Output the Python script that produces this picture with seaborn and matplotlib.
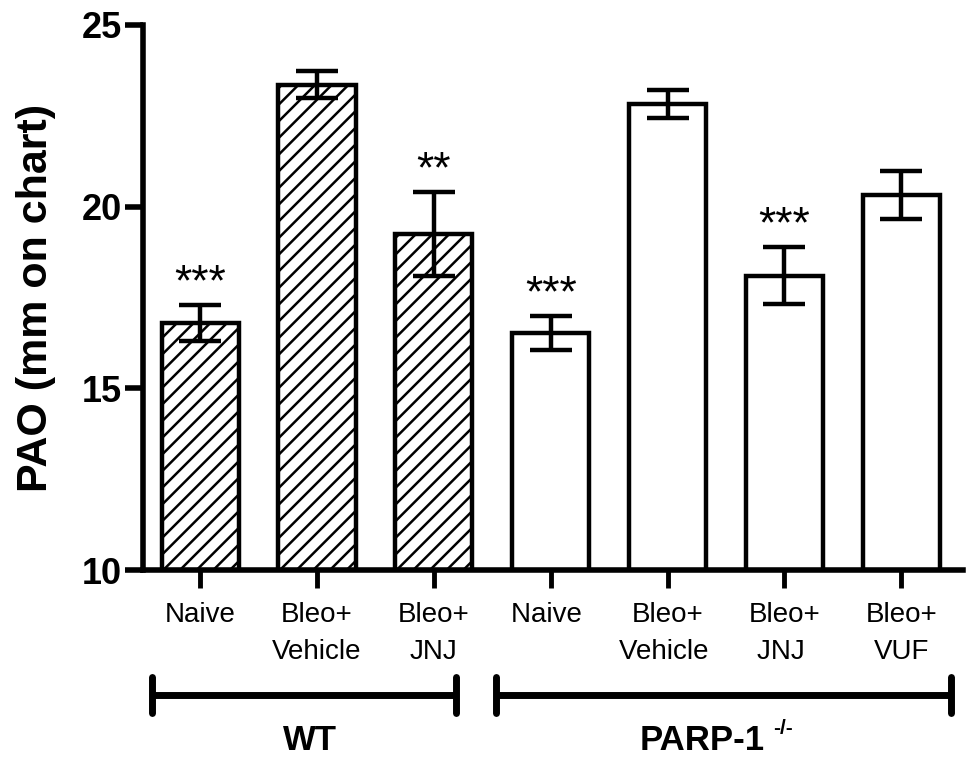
import numpy as np
import pandas as pd
import matplotlib
matplotlib.use('Agg')
import matplotlib.pyplot as plt
import seaborn as sns

# datos
groups = ['Naive', 'Bleo+\nVehicle', 'Bleo+\nJNJ', 'Naive ', 'Bleo+\nVehicle ', 'Bleo+\nJNJ ', 'Bleo+\nVUF']
pao_mean = [16.80, 23.35, 19.25, 16.53, 22.83, 18.10, 20.32]
pao_sem = [0.50, 0.37, 1.16, 0.47, 0.39, 0.79, 0.65]
stars = ['***', '', '**', '***', '', '***', '']
genotype = ['WT', 'WT', 'WT', 'PARP', 'PARP', 'PARP', 'PARP']

sns.set_style('ticks', rc={'axes.edgecolor': 'black', 'xtick.color': 'black',
                           'ytick.color': 'black', 'text.color': 'black',
                           'axes.labelcolor': 'black'})
plt.rcParams['font.family'] = ['Liberation Sans', 'DejaVu Sans']
plt.rcParams['hatch.linewidth'] = 1.8
plt.rcParams['hatch.color'] = 'black'

df = pd.DataFrame({'group': groups, 'PAO': pao_mean, 'sem': pao_sem, 'geno': genotype})

fig = plt.figure(figsize=(9.74, 7.64), dpi=100)
ax = fig.add_axes([0.1468, 0.2539, 0.842, 0.7134])

sns.barplot(data=df, x='group', y='PAO', order=groups, color='white', width=0.66,
            edgecolor='black', linewidth=3.2, errorbar=None, ax=ax)

x = np.arange(len(groups))
for i, patch in enumerate(ax.patches):
    patch.set_facecolor('white')
    if genotype[i] == 'WT':
        patch.set_hatch('//')

ax.errorbar(x, pao_mean, yerr=pao_sem, fmt='none', ecolor='black',
            elinewidth=3.2, capsize=15, capthick=3.2, zorder=5)

# asteriscos de significancia
for i in range(len(groups)):
    if stars[i]:
        ax.text(x[i], pao_mean[i] + pao_sem[i] + 0.26, stars[i], ha='center', va='baseline',
                fontsize=32)

ax.set_ylim(10, 25)
ax.set_xlim(-0.49, 6.53)
ax.set_yticks([10, 15, 20, 25])
ax.set_yticklabels(['10', '15', '20', '25'], fontsize=26, fontweight='bold')
ax.set_xticks(x)
ax.set_xticklabels(groups, fontsize=20, va='top', linespacing=1.55)
ax.tick_params(axis='y', length=13, width=4, pad=2)
ax.tick_params(axis='x', length=13, width=3.5, pad=10)
ax.set_xlabel('')
ax.set_ylabel('PAO (mm on chart)', fontsize=31, fontweight='bold', labelpad=19)

sns.despine(ax=ax)
ax.spines['left'].set_linewidth(4)
ax.spines['bottom'].set_linewidth(4)

# corchetes de genotipo
tr = ax.get_xaxis_transform()
for x0, x1 in [(-0.41, 2.19), (2.53, 6.43)]:
    ax.plot([x0, x1], [-0.229, -0.229], color='black', lw=5, transform=tr, clip_on=False,
            solid_capstyle='butt')
    for xe in (x0, x1):
        ax.plot([xe, xe], [-0.197, -0.263], color='black', lw=5, transform=tr, clip_on=False,
                solid_capstyle='round')

ax.text(0.94, -0.313, 'WT', transform=tr, ha='center', va='center', fontsize=25, fontweight='bold')
ax.text(4.3, -0.313, 'PARP-1', transform=tr, ha='center', va='center', fontsize=25, fontweight='bold')
ax.text(4.99, -0.29, '-/-', transform=tr, ha='center', va='center', fontsize=15, fontweight='bold')

fig.savefig('out.png', dpi=100)
